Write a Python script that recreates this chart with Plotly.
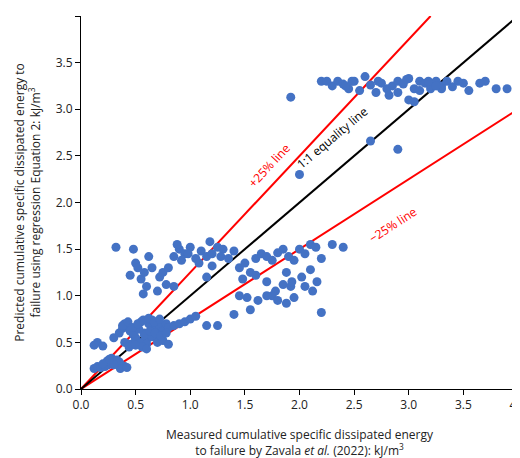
import plotly.graph_objects as go

# measured (x) vs predicted (y), kJ/m3, grouped by cluster
low_x = [0.12, 0.15, 0.18, 0.2, 0.22, 0.25, 0.27, 0.3, 0.32, 0.35, 0.38, 0.4, 0.28, 0.33, 0.36, 0.24, 0.3, 0.42, 0.2, 0.26, 0.15, 0.2, 0.12]
low_y = [0.22, 0.24, 0.23, 0.25, 0.24, 0.26, 0.28, 0.3, 0.27, 0.29, 0.25, 0.24, 0.33, 0.31, 0.22, 0.3, 0.26, 0.23, 0.27, 0.32, 0.5, 0.46, 0.47]

mid_x = [0.3, 0.35, 0.38, 0.4, 0.42, 0.45, 0.48, 0.5, 0.52, 0.55, 0.58, 0.6, 0.62, 0.65, 0.68, 0.7, 0.72, 0.75, 0.78, 0.8,
         0.85, 0.9, 0.95, 0.4, 0.45, 0.5, 0.55, 0.6, 0.65, 0.7, 0.75, 0.8, 0.48, 0.53, 0.58, 0.63, 0.68, 0.73, 0.78, 0.38,
         0.43, 0.47, 0.52, 0.57, 0.62, 0.67, 0.72, 0.44, 0.5, 0.56, 0.6, 1.0, 1.05, 1.15, 1.25, 1.4, 1.55]
mid_y = [0.55, 0.6, 0.65, 0.7, 0.68, 0.62, 0.58, 0.55, 0.66, 0.72, 0.6, 0.52, 0.7, 0.74, 0.65, 0.55, 0.68, 0.62, 0.7, 0.66,
         0.68, 0.7, 0.72, 0.5, 0.48, 0.53, 0.5, 0.48, 0.56, 0.5, 0.52, 0.48, 0.6, 0.64, 0.58, 0.62, 0.6, 0.57, 0.6, 0.68,
         0.72, 0.66, 0.7, 0.74, 0.76, 0.72, 0.75, 0.45, 0.47, 0.45, 0.43, 0.75, 0.78, 0.68, 0.68, 0.8, 0.85]

upl_x = [0.32, 0.45, 0.5, 0.55, 0.6, 0.65, 0.72, 0.78, 0.62, 0.48, 0.52, 0.58, 0.7, 0.75, 0.85, 0.9, 0.95, 1.0, 1.05,
         1.1, 1.15, 1.2, 1.25, 1.3, 0.88, 0.92, 0.98, 1.08, 1.18, 1.28, 1.35, 1.4, 0.8, 0.57, 0.85, 1.15, 1.2]
upl_y = [1.52, 1.22, 1.35, 1.18, 1.1, 1.3, 1.2, 1.12, 1.42, 1.5, 1.3, 1.25, 1.05, 1.25, 1.42, 1.5, 1.45, 1.52, 1.4,
         1.48, 1.42, 1.45, 1.52, 1.5, 1.55, 1.38, 1.45, 1.35, 1.58, 1.42, 1.4, 1.48, 1.3, 1.02, 1.1, 1.2, 1.32]

rgt_x = [1.45, 1.5, 1.55, 1.6, 1.65, 1.7, 1.75, 1.8, 1.85, 1.9, 1.95, 2.0, 2.05, 2.1, 2.15, 2.2, 2.3, 2.4, 1.48, 1.6,
         1.7, 1.78, 1.85, 1.92, 2.02, 2.1, 2.16, 1.62, 1.75, 1.88, 1.95, 2.05, 1.7, 1.8, 2.12, 2.2, 1.88, 1.93, 1.45, 1.52]
rgt_y = [1.3, 1.35, 1.25, 1.4, 1.45, 1.42, 1.38, 1.46, 1.5, 1.42, 1.38, 1.5, 1.45, 1.55, 1.52, 1.4, 1.55, 1.52, 1.18, 1.22,
         1.15, 1.05, 1.12, 1.1, 1.2, 1.28, 1.15, 0.95, 1.0, 0.92, 0.98, 1.1, 1.0, 0.95, 1.05, 0.82, 1.25, 1.15, 1.0, 0.98]

top_x = [1.92, 2.2, 2.3, 2.35, 2.4, 2.45, 2.5, 2.6, 2.65, 2.7, 2.75, 2.8, 2.85, 2.9, 2.95, 3.0, 3.05, 3.1, 3.15, 3.2,
         3.25, 3.3, 3.35, 3.4, 3.5, 3.55, 3.7, 3.8, 2.25, 2.42, 2.48, 2.55, 2.9, 3.0, 3.1, 3.2, 3.3, 3.45, 3.65, 3.9,
         2.72, 2.82, 2.98, 3.05, 3.18, 3.25, 2.0, 2.65, 2.9]
top_y = [3.13, 3.3, 3.25, 3.3, 3.27, 3.22, 3.3, 3.35, 3.26, 3.18, 3.28, 3.22, 3.25, 3.3, 3.27, 3.33, 3.22, 3.3, 3.28, 3.22,
         3.3, 3.25, 3.3, 3.24, 3.28, 3.2, 3.3, 3.22, 3.3, 3.25, 3.3, 3.2, 3.18, 3.1, 3.2, 3.25, 3.22, 3.3, 3.28, 3.22,
         3.3, 3.15, 3.32, 3.08, 3.3, 3.25, 2.3, 2.66, 2.57]

measured = low_x + mid_x + upl_x + rgt_x + top_x
predicted = low_y + mid_y + upl_y + rgt_y + top_y

fig = go.Figure()
fig.add_trace(go.Scatter(x=[0, 3.2], y=[0, 4.0], mode="lines", line=dict(color="#ff0000", width=2)))
fig.add_trace(go.Scatter(x=[0, 4.0], y=[0, 3.0], mode="lines", line=dict(color="#ff0000", width=2)))
fig.add_trace(go.Scatter(x=[0, 4.0], y=[0, 4.0], mode="lines", line=dict(color="black", width=2)))
fig.add_trace(go.Scatter(x=measured, y=predicted, mode="markers", cliponaxis=False,
                         marker=dict(color="#4472c4", size=9)))

fig.add_annotation(x=1.72, y=2.4, text="+25% line", textangle=-47, showarrow=False,
                   font=dict(color="#ff0000", size=12))
fig.add_annotation(x=2.3, y=2.7, text="1:1 equality line", textangle=-40, showarrow=False,
                   font=dict(color="black", size=12))
fig.add_annotation(x=2.86, y=1.76, text="−25% line", textangle=-33, showarrow=False,
                   font=dict(color="#ff0000", size=12))

axis = dict(range=[0, 4.0], dtick=0.5, tickformat=".1f", showgrid=False, zeroline=False, automargin=False,
            showline=True, linecolor="black", ticks="outside", ticklen=5, tickcolor="black",
            tickfont=dict(size=12))
fig.update_xaxes(**axis, title=dict(text="Measured cumulative specific dissipated energy<br>"
                                         "to failure by Zavala <i>et al.</i> (2022): kJ/m<sup>3</sup>",
                                    font=dict(size=12), standoff=18))
fig.update_yaxes(**axis, title=dict(text="Predicted cumulative specific dissipated energy to<br>"
                                         "failure using regression Equation 2: kJ/m<sup>3</sup>",
                                    font=dict(size=12), standoff=12))
fig.update_layout(width=520, height=458, showlegend=False, plot_bgcolor="white", paper_bgcolor="white",
                  margin=dict(l=73, r=10, t=8, b=77),
                  font=dict(family="Open Sans", size=12, color="#222"))
fig.write_html("out.html")
